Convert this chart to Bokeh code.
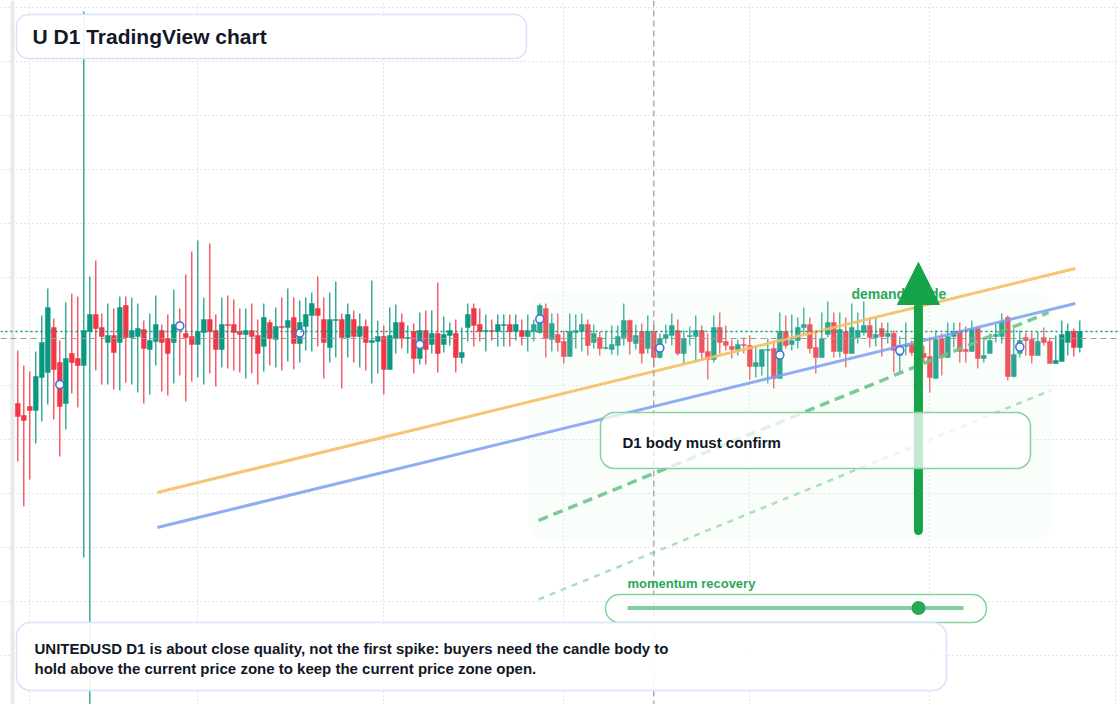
import pandas as pd
from bokeh.plotting import figure
from bokeh.models import (ColumnDataSource, Range1d, FixedTicker, BoxAnnotation,
                          Label, Arrow, NormalHead, Span)
from bokeh.embed import file_html
from bokeh.resources import INLINE

# ---------------- data (daily candles) ----------------
start_date = "2025-01-30"
opens = [0.927, 0.915, 0.924, 0.920, 0.953, 0.958, 1.003, 0.968, 0.927, 0.977,
         0.972, 0.965, 0.999, 1.016, 1.003, 0.988, 0.995, 0.988, 1.025, 0.993,
         0.994, 1.001, 0.981, 0.989, 1.000, 0.992, 0.988, 1.008, 0.997, 0.994,
         0.986, 0.998, 1.011, 1.000, 0.981, 1.006, 1.006, 0.999, 0.996, 1.000,
         0.995, 0.984, 1.008, 0.991, 1.004, 1.003, 1.013, 0.987, 1.004, 1.015,
         1.022, 1.011, 0.983, 1.010, 1.011, 0.993, 1.011, 0.994, 1.004, 0.988,
         0.989, 0.994, 0.961, 0.992, 1.008, 0.992, 0.999, 0.972, 1.000, 0.986,
         0.997, 0.986, 0.995, 0.997, 0.973, 1.003, 1.022, 1.006, 0.999, 1.000,
         0.999, 1.005, 1.006, 0.999, 1.000, 0.994, 0.999, 0.998, 1.022, 0.991,
         0.996, 0.989, 0.974, 0.998, 0.999, 1.006, 0.988, 0.993, 0.982, 0.981,
         0.985, 0.993, 1.010, 0.987, 0.999, 0.982, 0.999, 0.973, 0.992, 0.995,
         1.000, 0.977, 0.994, 0.994, 1.000, 0.979, 0.971, 1.003, 0.989, 0.984,
         0.981, 0.986, 0.985, 0.964, 0.964, 0.980, 0.982, 0.952, 0.999, 0.986,
         0.990, 1.003, 1.006, 0.983, 0.973, 0.996, 1.008, 0.979, 0.999, 0.977,
         0.993, 0.998, 1.005, 0.993, 1.002, 0.994, 0.997, 0.975, 0.984, 0.986,
         0.978, 0.977, 0.974, 0.952, 0.992, 0.973, 0.994, 0.999, 0.981, 0.979,
         1.002, 0.972, 0.977, 0.994, 0.994, 1.013, 0.954, 0.977, 0.993, 0.991,
         0.975, 0.993, 0.989, 0.967, 0.969, 0.988, 0.999, 0.983]
highs = [0.980, 0.965, 0.959, 0.979, 1.015, 1.042, 1.012, 0.990, 1.028, 1.037,
         1.034, 1.319, 1.054, 1.070, 1.017, 1.027, 1.022, 1.034, 1.034, 1.033,
         1.027, 1.010, 1.017, 1.035, 1.006, 1.016, 1.041, 1.022, 1.056, 1.079,
         1.090, 1.033, 1.087, 1.016, 1.033, 1.035, 1.031, 1.022, 1.022, 1.027,
         1.011, 1.027, 1.011, 1.023, 1.033, 1.042, 1.033, 1.030, 1.033, 1.038,
         1.054, 1.033, 1.038, 1.049, 1.017, 1.027, 1.020, 1.017, 1.011, 1.050,
         1.010, 1.005, 1.023, 1.026, 1.017, 1.005, 1.007, 1.018, 1.020, 1.020,
         1.048, 1.014, 1.008, 1.011, 1.003, 1.027, 1.027, 1.022, 1.016, 1.011,
         1.016, 1.016, 1.016, 1.016, 1.011, 1.016, 1.011, 1.027, 1.027, 1.017,
         1.017, 1.000, 1.017, 1.016, 1.017, 1.011, 1.006, 0.999, 0.999, 1.005,
         1.005, 1.027, 1.011, 1.006, 1.007, 1.015, 1.005, 0.997, 1.006, 1.017,
         1.011, 1.000, 1.004, 1.015, 1.005, 0.997, 1.015, 1.018, 1.005, 0.991,
         0.991, 0.993, 0.995, 0.985, 0.981, 0.992, 0.990, 1.018, 1.015, 1.016,
         1.013, 1.023, 1.013, 1.000, 1.018, 1.029, 1.018, 1.018, 1.013, 1.027,
         1.018, 1.029, 1.013, 1.013, 1.008, 1.008, 1.000, 0.994, 1.008, 0.990,
         0.985, 0.985, 0.993, 1.000, 0.997, 1.008, 1.008, 1.008, 1.004, 1.010,
         1.004, 0.993, 0.997, 1.007, 1.017, 1.015, 1.002, 1.000, 0.998, 0.998,
         0.999, 1.003, 0.993, 0.995, 1.010, 1.007, 1.002, 1.010]
lows = [0.869, 0.824, 0.851, 0.887, 0.909, 0.926, 0.911, 0.874, 0.901, 0.937,
        0.923, 0.773, 0.610, 0.960, 0.946, 0.946, 0.941, 0.940, 0.948, 0.946,
        0.938, 0.927, 0.936, 0.965, 0.939, 0.935, 0.947, 0.955, 0.929, 0.949,
        0.953, 0.946, 0.957, 0.944, 0.963, 0.962, 0.960, 0.958, 0.952, 0.957,
        0.946, 0.959, 0.965, 0.963, 0.960, 0.969, 0.961, 0.968, 0.980, 0.979,
        0.984, 0.952, 0.968, 0.973, 0.942, 0.973, 0.968, 0.963, 0.960, 0.947,
        0.957, 0.936, 0.961, 0.977, 0.982, 0.977, 0.957, 0.966, 0.966, 0.977,
        0.958, 0.978, 0.985, 0.958, 0.967, 0.989, 0.984, 0.989, 0.979, 0.990,
        0.984, 0.984, 0.984, 0.990, 0.985, 0.979, 0.989, 0.997, 0.973, 0.979,
        0.979, 0.967, 0.974, 0.982, 0.979, 0.975, 0.982, 0.975, 0.981, 0.976,
        0.975, 0.985, 0.976, 0.981, 0.967, 0.977, 0.963, 0.972, 0.987, 0.985,
        0.975, 0.967, 0.985, 0.968, 0.970, 0.951, 0.968, 0.977, 0.980, 0.972,
        0.975, 0.977, 0.951, 0.953, 0.955, 0.947, 0.942, 0.952, 0.982, 0.980,
        0.982, 0.995, 0.977, 0.957, 0.973, 0.993, 0.973, 0.973, 0.963, 0.977,
        0.987, 0.995, 0.983, 0.984, 0.974, 0.987, 0.958, 0.958, 0.975, 0.975,
        0.965, 0.967, 0.938, 0.952, 0.955, 0.973, 0.983, 0.968, 0.968, 0.979,
        0.962, 0.968, 0.977, 0.988, 0.987, 0.950, 0.953, 0.973, 0.975, 0.967,
        0.975, 0.985, 0.967, 0.967, 0.969, 0.975, 0.974, 0.978]
closes = [0.914, 0.910, 0.920, 0.954, 0.988, 1.023, 0.961, 0.924, 0.972, 0.968,
          0.965, 1.000, 1.016, 1.002, 0.994, 0.995, 0.978, 1.023, 0.993, 1.000,
          1.002, 0.982, 0.990, 1.006, 0.988, 0.977, 1.006, 1.001, 0.993, 0.986,
          0.999, 1.011, 0.999, 0.981, 1.006, 1.005, 0.998, 0.996, 1.000, 0.994,
          0.977, 1.013, 0.992, 1.004, 1.003, 1.010, 0.987, 1.008, 1.016, 1.027,
          1.015, 0.988, 1.011, 1.011, 0.993, 1.016, 0.994, 1.004, 0.988, 0.990,
          0.994, 0.961, 0.995, 1.008, 0.992, 0.993, 0.972, 1.000, 0.981, 0.997,
          0.977, 0.996, 1.000, 0.973, 0.978, 1.016, 1.005, 0.999, 1.000, 0.999,
          1.006, 1.006, 0.999, 1.006, 0.994, 1.000, 1.006, 1.025, 0.992, 1.007,
          0.988, 0.974, 0.999, 1.000, 1.006, 0.985, 0.997, 0.982, 0.983, 0.986,
          0.994, 1.010, 0.989, 0.995, 0.977, 0.999, 0.973, 0.992, 0.996, 1.005,
          0.977, 0.992, 0.995, 1.000, 0.978, 0.971, 1.003, 0.988, 0.985, 0.981,
          0.986, 0.985, 0.964, 0.968, 0.981, 0.981, 0.952, 0.999, 0.985, 0.990,
          1.003, 1.006, 0.982, 0.973, 0.992, 1.008, 0.979, 1.001, 0.977, 1.003,
          1.000, 1.005, 0.993, 0.996, 0.994, 0.997, 0.980, 0.985, 0.986, 0.978,
          0.972, 0.973, 0.953, 0.991, 0.973, 0.994, 0.999, 0.979, 0.979, 1.002,
          0.972, 0.975, 0.990, 0.996, 1.009, 0.954, 0.976, 0.990, 0.990, 0.975,
          0.989, 0.988, 0.967, 0.970, 0.996, 0.999, 0.983, 0.999]

marker_idx = [7, 27, 47, 67, 87, 107, 127, 147, 167]   # blue ring markers
ref_level = 0.992                                      # grey dashed level
event_date = "2025-05-16"                              # grey dashed vertical

orange_x = ["2025-02-22 06:00", "2025-07-25 06:00"]
orange_y = [0.838, 1.062]
blue_x = ["2025-02-22 06:00", "2025-07-25 06:00"]
blue_y = [0.803, 1.027]
guide_x = ["2025-04-26 19:00", "2025-07-20 19:00"]
guide_y = [0.810, 1.018]
guide2_x = ["2025-04-26 19:00", "2025-07-21 02:00"]
guide2_y = [0.731, 0.940]

zone_x = ["2025-04-24 23:00", "2025-07-21 11:00"]
zone_y = [0.790, 1.038]
arrow_date = "2025-06-29 02:30"
arrow_y = [0.800, 1.025, 1.068]   # tail, head base, tip

month_starts = ["2025-02-01", "2025-03-01", "2025-04-01", "2025-05-01",
                "2025-06-01", "2025-07-01", "2025-08-01"]

# ---------------- helpers ----------------
DAY = 86400000.0
def ms(s):
    return pd.Timestamp(s).value / 1e6

W, H = 1120, 704
X0 = ms("2025-02-01") - 29.3 / 6 * DAY
X1 = X0 + W / 6 * DAY
Y_TOP, Y_BOT = 1.330, 0.626
PXY = (Y_TOP - Y_BOT) / H

def xpx(px):
    return X0 + px / 6 * DAY

def ypx(py):
    return Y_TOP - py * PXY

dates = pd.date_range(start_date, periods=len(opens), freq="D")
GREEN, RED = "#089981", "#f23645"
colors = [GREEN if c >= o else RED for o, c in zip(opens, closes)]
src = ColumnDataSource(dict(
    date=dates, high=highs, low=lows,
    top=[max(o, c) for o, c in zip(opens, closes)],
    bottom=[min(o, c) for o, c in zip(opens, closes)],
    color=colors))

p = figure(width=W, height=H, x_axis_type="datetime",
           x_range=Range1d(X0, X1), y_range=Range1d(Y_BOT, Y_TOP),
           output_backend="svg", toolbar_location=None, min_border=0,
           outline_line_color=None, background_fill_color="white",
           border_fill_color="white")
p.xaxis.visible = False
p.yaxis.visible = False
p.xgrid.ticker = FixedTicker(ticks=[ms(m) for m in month_starts])
p.ygrid.ticker = FixedTicker(ticks=[ypx(6.7 + 54 * k) for k in range(13)])
for g in (p.xgrid, p.ygrid):
    g.grid_line_color = "#c9c9c9"
    g.grid_line_dash = "1 3"
    g.grid_line_width = 1

band = BoxAnnotation(left=xpx(10), right=xpx(14), fill_color="#e9e9e9",
                     fill_alpha=1, line_color=None, level="underlay")
p.add_layout(band)

# candles
p.segment(x0="date", y0="high", x1="date", y1="low", line_color="color",
          line_width=1.2, source=src)
p.vbar(x="date", width=0.8 * DAY, top="top", bottom="bottom",
       fill_color="color", line_color="color", line_width=0.5, source=src)

# demand zone (over candles, under guide lines)
zone = BoxAnnotation(left=ms(zone_x[0]), right=ms(zone_x[1]),
                     bottom=zone_y[0], top=zone_y[1],
                     fill_color="#dff7e6", fill_alpha=0.16, line_color=None,
                     border_radius=18, level="glyph")
p.renderers.append(zone)

p.line([pd.Timestamp(v) for v in orange_x], orange_y, line_color="#f6bf63",
       line_width=3, line_alpha=0.9)
p.line([pd.Timestamp(v) for v in blue_x], blue_y, line_color="#7d9ff2",
       line_width=3, line_alpha=0.85)
p.line([pd.Timestamp(v) for v in guide_x], guide_y, line_color="#6cc48b",
       line_width=3.5, line_dash="10 6", line_alpha=0.9)
p.line([pd.Timestamp(v) for v in guide2_x], guide2_y, line_color="#a3dbb6",
       line_width=2.5, line_dash="6 6", line_alpha=0.9)

p.scatter([dates[i] for i in marker_idx],
          [(opens[i] + closes[i]) / 2 for i in marker_idx],
          size=8, marker="circle", fill_color="white", line_color="#3f72f0",
          line_width=1.6)

# reference spans
p.add_layout(Span(location=closes[-1], dimension="width", line_color=GREEN,
                  line_dash="2 3", line_width=1.6))
p.add_layout(Span(location=ref_level, dimension="width", line_color="#9a9a9a",
                  line_dash="6 4", line_width=1.2))
p.add_layout(Span(location=ms(event_date), dimension="height",
                  line_color="#9a9a9a", line_dash="6 4", line_width=1.2))

FONT = "Liberation Sans"
DARK = "#111827"
LGREEN = "#2aa85a"
BOXG = "#86d3a0"
BOXB = "#d6e4fb"

p.add_layout(Label(x=xpx(851), y=ypx(293), text="demand guide",
                   text_font=FONT, text_font_size="14px", text_font_style="bold",
                   text_color=LGREEN, text_baseline="middle"))

ARW = "#16a34a"
ax = ms(arrow_date)
# shaft (round tail) up to the head base
p.add_layout(Arrow(start=None, end=None, x_start=ax, y_start=arrow_y[0],
                   x_end=ax, y_end=arrow_y[1] - 0.002, line_color=ARW,
                   line_width=9, line_cap="round"))
# head
p.add_layout(Arrow(end=NormalHead(size=42, fill_color=ARW, line_color=ARW,
                                  line_width=1),
                   x_start=ax, y_start=arrow_y[1], x_end=ax, y_end=arrow_y[2],
                   line_alpha=0, line_width=1))

# D1 box
p.add_layout(BoxAnnotation(left=xpx(600), right=xpx(1030), top=ypx(412),
                           bottom=ypx(468), fill_color="white", fill_alpha=0.75,
                           line_color=BOXG, line_alpha=1, line_width=1.5,
                           border_radius=14))
p.add_layout(Label(x=xpx(622), y=ypx(442), text="D1 body must confirm",
                   text_font=FONT, text_font_size="15px", text_font_style="bold",
                   text_color=DARK, text_baseline="middle"))

# momentum slider
p.add_layout(Label(x=xpx(627), y=ypx(583), text="momentum recovery",
                   text_font=FONT, text_font_size="13px", text_font_style="bold",
                   text_color=LGREEN, text_baseline="middle"))
p.add_layout(BoxAnnotation(left=xpx(605), right=xpx(986), top=ypx(594),
                           bottom=ypx(622), fill_color="white", fill_alpha=0.8,
                           line_color=BOXG, line_alpha=1, line_width=1.5,
                           border_radius=14))
p.add_layout(Arrow(start=None, end=None, x_start=xpx(627), y_start=ypx(607.5),
                   x_end=xpx(963), y_end=ypx(607.5), line_color="#7fd09c",
                   line_width=4))
p.add_layout(BoxAnnotation(left=xpx(911), right=xpx(925), top=ypx(600.5),
                           bottom=ypx(614.5), fill_color="#27a853",
                           fill_alpha=1, line_color=None, border_radius=7))

# bottom note
p.add_layout(BoxAnnotation(left=xpx(16), right=xpx(946), top=ypx(622),
                           bottom=ypx(690), fill_color="white", fill_alpha=0.9,
                           line_color=BOXB, line_alpha=1, line_width=1.5,
                           border_radius=14))
p.add_layout(Label(x=xpx(34), y=ypx(648),
                   text="UNITEDUSD D1 is about close quality, not the first spike: buyers need the candle body to",
                   text_font=FONT, text_font_size="15px", text_font_style="bold",
                   text_color=DARK, text_baseline="middle"))
p.add_layout(Label(x=xpx(34), y=ypx(668),
                   text="hold above the current price zone to keep the current price zone open.",
                   text_font=FONT, text_font_size="15px", text_font_style="bold",
                   text_color=DARK, text_baseline="middle"))

# title
p.add_layout(BoxAnnotation(left=xpx(16), right=xpx(526), top=ypx(14),
                           bottom=ypx(58), fill_color="white", fill_alpha=0.92,
                           line_color=BOXB, line_alpha=1, line_width=1.5,
                           border_radius=12))
p.add_layout(Label(x=xpx(32), y=ypx(36), text="U D1 TradingView chart",
                   text_font=FONT, text_font_size="21px", text_font_style="bold",
                   text_color=DARK, text_baseline="middle"))

open("out.html", "w").write(file_html(p, INLINE))
